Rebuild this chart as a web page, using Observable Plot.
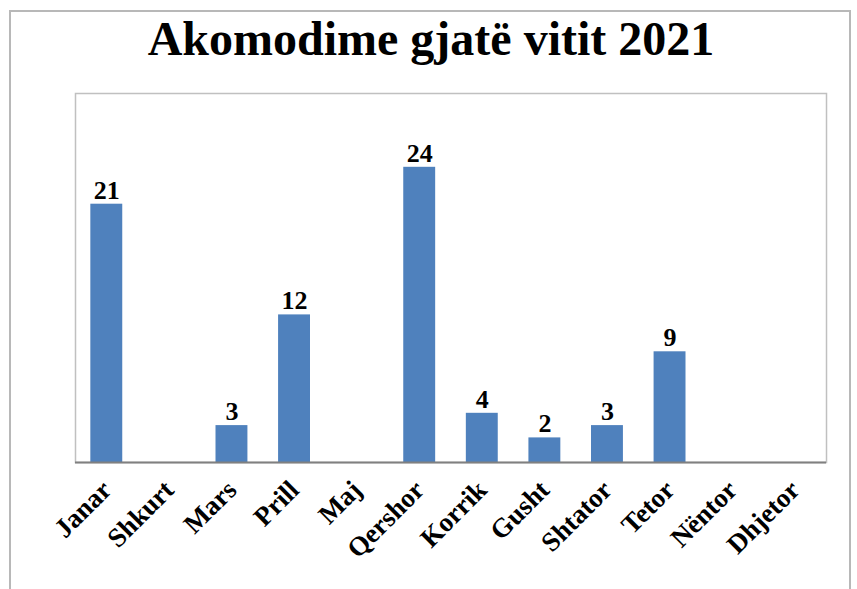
<!DOCTYPE html>
<html>
<head>
<meta charset="utf-8">
<script src="https://cdn.jsdelivr.net/npm/d3@7"></script>
<script src="https://cdn.jsdelivr.net/npm/@observablehq/plot@0.6"></script>
<style>
  html, body { margin: 0; padding: 0; background: #fff; }
  #wrap { position: relative; width: 857px; height: 589px; overflow: hidden; }
  #border { position: absolute; left: 9px; top: 10px; width: 842px; height: 640px; border: 2px solid #b8b8b8; box-sizing: border-box; }
  #title { position: absolute; left: 0; top: 11px; width: 862px; text-align: center; font-family: "Liberation Serif", "Times New Roman", serif; font-weight: bold; font-size: 48px; line-height: 56px; color: #000; }
  #chart { position: absolute; left: 0; top: 0; }
</style>
</head>
<body>
<div id="wrap">
  <div id="border"></div>
  <div id="title">Akomodime gjatë vitit 2021</div>
  <div id="chart"></div>
</div>
<script>
const months = ["Janar", "Shkurt", "Mars", "Prill", "Maj", "Qershor", "Korrik", "Gusht", "Shtator", "Tetor", "Nëntor", "Dhjetor"];
const values = [21, 0, 3, 12, 0, 24, 4, 2, 3, 9, 0, 0];

const data = months.map((m, i) => ({month: m, value: values[i]}));
const font = "Liberation Serif, Times New Roman, serif";

const plot = Plot.plot({
  width: 857,
  height: 589,
  marginLeft: 75,
  marginRight: 31,
  marginTop: 93,
  marginBottom: 127,
  style: {background: "transparent", fontFamily: font},
  x: {domain: months, paddingInner: 0.49, paddingOuter: 0.245, round: false, label: null},
  y: {domain: [0, 30], axis: null},
  marks: [
    Plot.frame({stroke: "#c0c0c0", strokeWidth: 1.5}),
    Plot.barY(data, {x: "month", y: "value", fill: "#4F81BD"}),
    Plot.ruleY([0], {stroke: "#808080", strokeWidth: 2}),
    Plot.text(data.filter(d => d.value > 0), {x: "month", y: "value", text: d => String(d.value), dy: -14, fontSize: 26, fontWeight: "bold", fill: "#000"}),
    Plot.axisX({tickSize: 0, tickPadding: 23, tickRotate: -45, fontSize: 27, fontWeight: "bold", fill: "#000", label: null})
  ]
});
document.getElementById("chart").appendChild(plot);
</script>
</body>
</html>
